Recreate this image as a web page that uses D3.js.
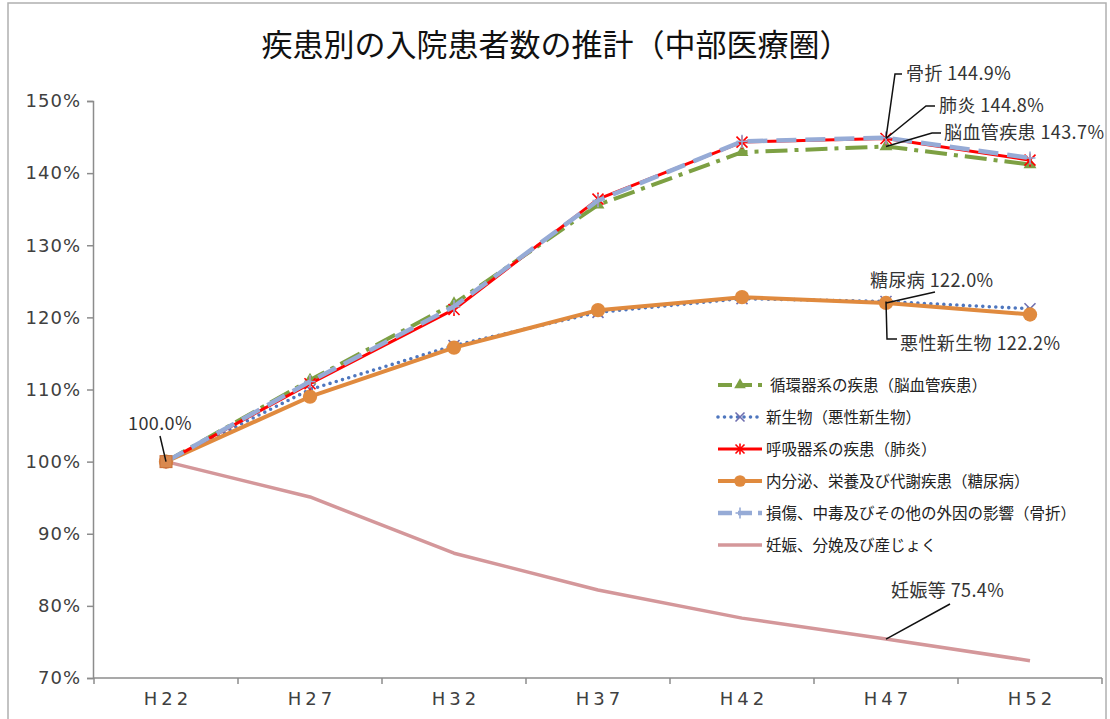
<!DOCTYPE html>
<html>
<head>
<meta charset="utf-8">
<script src="https://cdn.jsdelivr.net/npm/d3@7"></script>
<style>
	body { margin: 0; background: #fff; }
	text { font-family: "Noto Sans CJK JP", "Noto Sans", sans-serif; }
	.tick-num { font-family: "DejaVu Sans", sans-serif; }
</style>
</head>
<body>
<div class="chart"></div>
<script>

const years = ["H22", "H27", "H32", "H37", "H42", "H47", "H52"];
const yTicks = [70, 80, 90, 100, 110, 120, 130, 140, 150];

const circulatory = [100, 111.3, 121.9, 135.6, 142.9, 143.7, 141.2];
const neoplasm    = [100, 110.0, 116.1, 120.7, 122.6, 122.2, 121.2];
const respiratory = [100, 110.8, 121.1, 136.4, 144.3, 144.8, 141.8];
const endocrine   = [100, 109.0, 115.8, 121.0, 122.8, 122.0, 120.4];
const injury      = [100, 111.1, 121.5, 136.2, 144.4, 144.9, 142.1];
const pregnancy   = [100, 95.1, 87.3, 82.2, 78.3, 75.4, 72.4];

const names = [
	"循環器系の疾患（脳血管疾患）",
	"新生物（悪性新生物）",
	"呼吸器系の疾患（肺炎）",
	"内分泌、栄養及び代謝疾患（糖尿病）",
	"損傷、中毒及びその他の外因の影響（骨折）",
	"妊娠、分娩及び産じょく"
];

const series = [
	{ name: names[0], values: circulatory, color: "#7DA043", dash: "22,7,4,7", width: 4, cap: "butt", marker: "triangle" },
	{ name: names[1], values: neoplasm, color: "#4E76BE", dash: "0,6.5", width: 3.6, cap: "round", marker: "x" },
	{ name: names[2], values: respiratory, color: "#FF0000", dash: null, width: 3, cap: "butt", marker: "star" },
	{ name: names[3], values: endocrine, color: "#E08A3E", dash: null, width: 4, cap: "butt", marker: "circle" },
	{ name: names[4], values: injury, color: "#96ABD6", dash: "20,9", width: 4.5, cap: "butt", marker: "plus" },
	{ name: names[5], values: pregnancy, color: "#D4979A", dash: null, width: 3.5, cap: "butt", marker: null }
];

// drawing order (bottom -> top)
const drawOrder = [5, 1, 3, 0, 2, 4];

const width = 1110;
const height = 719;

const svg = d3.select(".chart").append("svg")
	.attr("width", width)
	.attr("height", height);

// outer frame
svg.append("rect")
	.attr("x", 8).attr("y", 3)
	.attr("width", 1098).attr("height", 740)
	.attr("fill", "none")
	.attr("stroke", "#b0b0b0")
	.attr("stroke-width", 1.5);

svg.append("text")
	.attr("x", 556)
	.attr("y", 56)
	.attr("text-anchor", "middle")
	.attr("font-size", 31)
	.attr("fill", "#111")
	.text("疾患別の入院患者数の推計（中部医療圏）");

const x = d3.scaleBand().domain(years).range([94, 1102]).paddingInner(0).paddingOuter(0);
const cx = (d) => x(d) + x.bandwidth() / 2;
const y = d3.scaleLinear().domain([70, 150]).range([678, 101]);

// y axis
const yAxis = svg.append("g")
	.attr("transform", "translate(93,0)")
	.call(d3.axisLeft(y).tickValues(yTicks).tickFormat((d) => d + "%").tickSize(6).tickPadding(6));
yAxis.select(".domain").attr("stroke", "#8c8c8c").attr("stroke-width", 1.5);
yAxis.selectAll(".tick line").attr("stroke", "#8c8c8c").attr("stroke-width", 1.5);
yAxis.selectAll(".tick text")
	.attr("class", "tick-num")
	.attr("font-size", 18)
	.attr("fill", "#404040")
	.attr("letter-spacing", 1);

// x axis
const xAxis = svg.append("g")
	.attr("transform", "translate(0,678)");
xAxis.append("line")
	.attr("x1", 93).attr("x2", 1102)
	.attr("stroke", "#8c8c8c").attr("stroke-width", 1.5);
xAxis.selectAll(".xtick")
	.data(years.map((d) => x(d)).concat([x.range()[1]]))
	.enter().append("line")
		.attr("x1", (d) => d).attr("x2", (d) => d)
		.attr("y1", 0).attr("y2", 6)
		.attr("stroke", "#8c8c8c").attr("stroke-width", 1.5);
xAxis.selectAll(".xlabel")
	.data(years)
	.enter().append("text")
		.attr("class", "tick-num")
		.attr("x", (d) => cx(d) + 2)
		.attr("y", 27)
		.attr("text-anchor", "middle")
		.attr("font-size", 18)
		.attr("letter-spacing", 4)
		.attr("fill", "#404040")
		.text((d) => d);

function drawMarker(g, type, color, px, py, s) {
	if (type === "triangle") {
		g.append("path")
			.attr("d", d3.symbol().type(d3.symbolTriangle).size(s * 13)())
			.attr("transform", `translate(${px},${py})`)
			.attr("fill", color);
	} else if (type === "circle") {
		g.append("circle")
			.attr("cx", px).attr("cy", py).attr("r", s * 1.3)
			.attr("fill", color);
	} else if (type === "x" || type === "star" || type === "plus") {
		const segs = [];
		if (type !== "plus") segs.push([-s, -s, s, s], [-s, s, s, -s]);
		if (type !== "x") segs.push([0, -s * 1.2, 0, s * 1.2]);
		if (type === "plus") segs.push([-s, 0, s, 0]);
		const c = type === "x" ? "#6f6faf" : color;
		segs.forEach((p) => {
			g.append("line")
				.attr("x1", px + p[0]).attr("y1", py + p[1])
				.attr("x2", px + p[2]).attr("y2", py + p[3])
				.attr("stroke", c).attr("stroke-width", 1.6);
		});
	}
}

const line = d3.line()
	.x((d, i) => cx(years[i]))
	.y((d) => y(d));

drawOrder.forEach((k) => {
	const s = series[k];
	const g = svg.append("g").attr("class", "series");
	g.append("path")
		.datum(s.values)
		.attr("d", line)
		.attr("fill", "none")
		.attr("stroke", s.color)
		.attr("stroke-width", s.width)
		.attr("stroke-linecap", s.cap)
		.attr("stroke-linejoin", "round")
		.attr("stroke-dasharray", s.dash);
	if (s.marker) {
		s.values.forEach((v, i) => drawMarker(g, s.marker, s.color, cx(years[i]), y(v), 5.5));
	}
});

// start point marker (overlapping markers at H22)
svg.append("rect")
	.attr("x", cx(years[0]) - 6).attr("y", y(pregnancy[0]) - 6)
	.attr("width", 12).attr("height", 12)
	.attr("fill", "#D9894F")
	.attr("stroke", "#C9703A")
	.attr("stroke-width", 1);

// legend
const legend = svg.append("g").attr("transform", "translate(718,385)");
series.forEach((s, i) => {
	const row = legend.append("g").attr("transform", `translate(0,${i * 32})`);
	row.append("line")
		.attr("x1", 0).attr("x2", 44)
		.attr("stroke", s.color)
		.attr("stroke-width", s.width)
		.attr("stroke-linecap", s.cap)
		.attr("stroke-dasharray", s.dash ? (s.cap === "round" ? "0,6.5" : "14,6") : null);
	if (s.marker) drawMarker(row, s.marker, s.color, 22, 0, 4.5);
	row.append("text")
		.attr("x", i === 0 ? 52 : 48)
		.attr("y", 5.5)
		.attr("font-size", 15.5)
		.attr("fill", "#222")
		.text(s.name);
});

// annotations
const notes = [
	{ label: "骨折 144.9%", values: injury, idx: 5, path: [[895, 74], [902, 74]], tx: 906, ty: 80 },
	{ label: "肺炎 144.8%", values: respiratory, idx: 5, path: [[926, 106], [935, 106]], tx: 939, ty: 112 },
	{ label: "脳血管疾患 143.7%", values: circulatory, idx: 5, path: [[932, 133], [941, 133]], tx: 944, ty: 139 },
	{ label: "糖尿病 122.0%", values: endocrine, idx: 5, path: [[935, 292]], tx: 870, ty: 287 },
	{ label: "悪性新生物 122.2%", values: neoplasm, idx: 5, path: [[887, 339], [897, 339]], tx: 900, ty: 350 },
	{ label: "100.0%", values: pregnancy, idx: 0, path: [[160, 436]], tx: 160, ty: 430, anchor: "middle" },
	{ label: "妊娠等 75.4%", values: pregnancy, idx: 5, path: [[950, 604]], tx: 891, ty: 597 }
];

notes.forEach((n) => {
	const pts = [[cx(years[n.idx]), y(n.values[n.idx])]].concat(n.path);
	svg.append("path")
		.attr("d", d3.line()(pts))
		.attr("fill", "none")
		.attr("stroke", "#111")
		.attr("stroke-width", 1.5);
	svg.append("text")
		.attr("x", n.tx)
		.attr("y", n.ty)
		.attr("text-anchor", n.anchor || "start")
		.attr("font-size", 18)
		.attr("letter-spacing", 0.4)
		.attr("fill", "#333")
		.text(n.label);
});

</script>
</body>
</html>
